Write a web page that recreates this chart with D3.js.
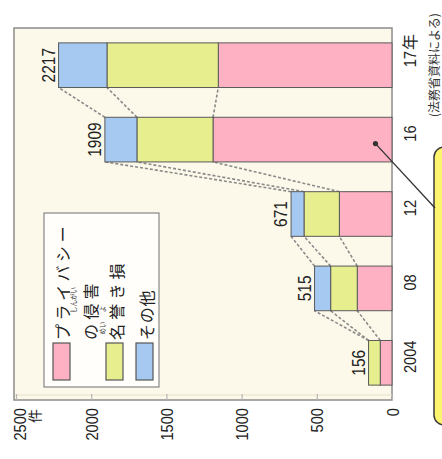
<!DOCTYPE html>
<html><head><meta charset="utf-8">
<script src="https://cdn.jsdelivr.net/npm/d3@7"></script>
<style>html,body{margin:0;padding:0;background:#fff;} svg{display:block}</style>
</head><body>
<svg id="chart" width="442" height="459"></svg>
<script>
// Internet human-rights infringement cases by year (件)
const years = ["2004", "08", "12", "16", "17"];
const privacy = [78, 231, 350, 1190, 1155];
const defamation = [78, 177, 235, 506, 740];
const other = [0, 107, 86, 213, 322];
const totals = [156, 515, 671, 1909, 2217];
const valueTicks = [0, 500, 1000, 1500, 2000, 2500];
const seriesKeys = ["privacy", "defamation", "other"];
const seriesColors = ["#fdb1c2", "#e6ee8e", "#a6c9f2"];
const legendLines = [["プライバシー", "の侵害"], ["名誉き損"], ["その他"]];
const unitLabel = "件";
const yearSuffix = "年";
const sourceNote = "(法務省資料による)";

const NUM_FONT = "'Liberation Sans', Arial, sans-serif";
const JP_FONT = "'Noto Sans CJK JP', 'Noto Sans', sans-serif";
const W = 372, H = 376;

const svg = d3.select("#chart");
// the chart is laid out upright, then turned a quarter turn counter-clockwise
const g = svg.append("g").attr("transform", "translate(16,400) rotate(-90)");

const x = d3.scaleBand().domain(years).range([0, W]).paddingInner(0.4).paddingOuter(0.2);
const y = d3.scaleLinear().domain([0, 2500]).range([H, 0]);
const bw = x.bandwidth();

// plot frame
g.append("rect").attr("x", 0).attr("y", -2).attr("width", W).attr("height", H + 2)
  .attr("fill", "#fdf9ea").attr("stroke", "#8c8c8c").attr("stroke-width", 1.5);
g.append("line").attr("x1", 5).attr("x2", 5).attr("y1", -1).attr("y2", H)
  .attr("stroke", "#e6e1cc").attr("stroke-width", 1);

// value axis
const axis = g.append("g").call(
  d3.axisLeft(y).tickValues(valueTicks).tickFormat(d3.format("d"))
    .tickSizeInner(-6).tickSizeOuter(0).tickPadding(8)
);
axis.select(".domain").remove();
axis.selectAll(".tick line").attr("stroke", "#b5b5b5").attr("stroke-width", 1.2);
axis.selectAll(".tick text")
  .attr("font-family", NUM_FONT).attr("font-size", 17).attr("fill", "#222")
  .attr("dy", "0.36em")
  .each(function (d) {
    const t = d3.select(this);
    const tx = +t.attr("x");
    t.attr("x", null);
    t.attr("transform", `translate(${tx},${d === 2500 ? 3 : 0}) scale(0.86,1)`);
  });
g.append("text").attr("x", -9).attr("y", y(2500) + 24)
  .attr("text-anchor", "end").attr("font-family", JP_FONT).attr("font-size", 14)
  .attr("fill", "#222").text(unitLabel);

// stacked series
const rows = years.map((yr, i) => ({ year: yr, privacy: privacy[i], defamation: defamation[i], other: other[i] }));
const stacked = d3.stack().keys(seriesKeys)(rows);

// dashed connectors between successive bars
const conn = g.append("g");
for (let i = 0; i < years.length - 1; i++) {
  stacked.forEach(s => {
    conn.append("line")
      .attr("x1", x(years[i]) + bw).attr("y1", y(s[i][1]))
      .attr("x2", x(years[i + 1])).attr("y2", y(s[i + 1][1]))
      .attr("stroke", "#8a8a8a").attr("stroke-width", 1.6).attr("stroke-dasharray", "3,2");
  });
}

// bars
g.append("g").selectAll("g").data(stacked).join("g")
  .attr("fill", (d, k) => seriesColors[k])
  .selectAll("rect").data(d => d).join("rect")
  .attr("x", d => x(d.data.year)).attr("width", bw)
  .attr("y", d => y(d[1])).attr("height", d => y(d[0]) - y(d[1]))
  .attr("stroke", "#5a5a5a").attr("stroke-width", 1);

// totals above the bars
g.append("g").selectAll("text").data(years).join("text")
  .attr("transform", (yr, i) => `translate(${x(yr) + bw / 2},${y(totals[i]) - 4}) scale(0.86,1)`)
  .attr("text-anchor", "middle").attr("font-family", NUM_FONT).attr("font-size", 18)
  .attr("fill", "#222").text((yr, i) => totals[i]);

// year labels
const yearText = g.append("g").selectAll("text").data(years).join("text")
  .attr("transform", yr => `translate(${x(yr) + bw / 2 + 6},${H + 24}) scale(0.86,1)`)
  .attr("text-anchor", "middle").attr("font-family", NUM_FONT).attr("font-size", 17)
  .attr("fill", "#222").text(yr => yr);
const lastNode = yearText.nodes()[years.length - 1];
const lastYear = years[years.length - 1];
const halfLen = lastNode.getComputedTextLength() * 0.86 / 2;
g.append("text").attr("x", x(lastYear) + bw / 2 + 6 + halfLen + 1).attr("y", H + 24)
  .attr("font-family", JP_FONT).attr("font-size", 16).attr("fill", "#222").text(yearSuffix);

// legend
const lg = g.append("g");
lg.append("rect").attr("x", 13).attr("y", 28).attr("width", 174).attr("height", 115)
  .attr("fill", "#fffefb").attr("stroke", "#858585").attr("stroke-width", 1.2);
const swatchY = [37, 90, 120];
const lineBase = [[53, 81], [107], [137]];
const spacing = [[3.6, 4.2], [4.2], [0.8]];
legendLines.forEach((lines, k) => {
  lg.append("rect").attr("x", 20).attr("y", swatchY[k]).attr("width", 37).attr("height", 17)
    .attr("fill", seriesColors[k]).attr("stroke", "#555").attr("stroke-width", 1.2);
  lines.forEach((ln, j) => {
    lg.append("text").attr("x", 60).attr("y", lineBase[k][j])
      .attr("font-family", JP_FONT).attr("font-size", 16).attr("letter-spacing", spacing[k][j])
      .attr("fill", "#222").text(ln);
  });
});
// reading aids (furigana)
const ruby = [["しんがい", 100, 60], ["めい", 72, 89], ["よ", 91, 89]];
ruby.forEach(([t, cx, by]) => {
  lg.append("text").attr("x", cx).attr("y", by).attr("text-anchor", "middle")
    .attr("font-family", JP_FONT).attr("font-size", 6.5).attr("fill", "#333").text(t);
});

// callout box and pointer
g.append("rect").attr("x", -25).attr("y", 418).attr("width", 278).attr("height", 60).attr("rx", 10)
  .attr("fill", "#fff46e").attr("stroke", "#3a3a3a").attr("stroke-width", 1.5);
const px = x("16") + bw / 2 - 4, py = y(110);
g.append("line").attr("x1", px).attr("y1", py).attr("x2", 192).attr("y2", 419)
  .attr("stroke", "#333").attr("stroke-width", 1.3);
g.append("circle").attr("cx", px).attr("cy", py).attr("r", 2.6).attr("fill", "#333");

// source note
g.append("text").attr("x", 283).attr("y", 423)
  .attr("font-family", JP_FONT).attr("font-size", 12).attr("fill", "#333").text(sourceNote);
</script>
</body></html>
